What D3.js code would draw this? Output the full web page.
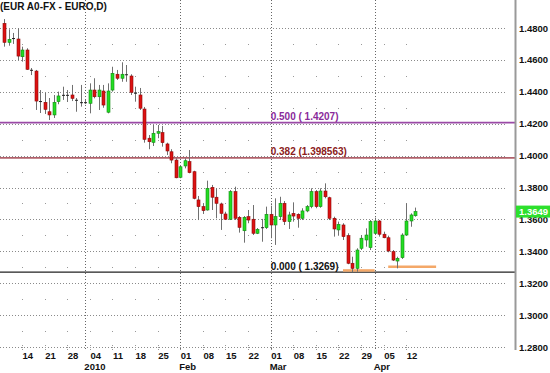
<!DOCTYPE html>
<html><head><meta charset="utf-8">
<script src="https://cdnjs.cloudflare.com/ajax/libs/d3/7.8.5/d3.min.js"></script>
<style>html,body{margin:0;padding:0;background:#fff;}svg{display:block;}</style>
</head><body>
<script>
const title = "(EUR A0-FX - EURO,D)";
const dates = ["2009-12-08","2009-12-09","2009-12-10","2009-12-11",
"2009-12-14","2009-12-15","2009-12-16","2009-12-17","2009-12-18",
"2009-12-21","2009-12-22","2009-12-23","2009-12-24","2009-12-25",
"2009-12-28","2009-12-29","2009-12-30","2009-12-31","2010-01-01",
"2010-01-04","2010-01-05","2010-01-06","2010-01-07","2010-01-08",
"2010-01-11","2010-01-12","2010-01-13","2010-01-14","2010-01-15",
"2010-01-18","2010-01-19","2010-01-20","2010-01-21","2010-01-22",
"2010-01-25","2010-01-26","2010-01-27","2010-01-28","2010-01-29",
"2010-02-01","2010-02-02","2010-02-03","2010-02-04","2010-02-05",
"2010-02-08","2010-02-09","2010-02-10","2010-02-11","2010-02-12",
"2010-02-15","2010-02-16","2010-02-17","2010-02-18","2010-02-19",
"2010-02-22","2010-02-23","2010-02-24","2010-02-25","2010-02-26",
"2010-03-01","2010-03-02","2010-03-03","2010-03-04","2010-03-05",
"2010-03-08","2010-03-09","2010-03-10","2010-03-11","2010-03-12",
"2010-03-15","2010-03-16","2010-03-17","2010-03-18","2010-03-19",
"2010-03-22","2010-03-23","2010-03-24","2010-03-25","2010-03-26",
"2010-03-29","2010-03-30","2010-03-31","2010-04-01","2010-04-02",
"2010-04-05","2010-04-06","2010-04-07","2010-04-08","2010-04-09",
"2010-04-12","2010-04-13","2010-04-14"];
const open  = [1.4829,1.4710,1.4733,1.4731,1.4620,1.4662,1.4538,1.4530,1.4342,1.4334,1.4275,1.4255,1.4338,1.4379,1.4381,1.4380,1.4350,1.4335,1.4334,1.4328,1.4411,1.4369,1.4405,1.4272,1.4411,1.4510,1.4485,1.4508,1.4499,1.4396,1.4380,1.4292,1.4109,1.4083,1.4140,1.4144,1.4073,1.4024,1.3972,1.3864,1.3935,1.3962,1.3899,1.3722,1.3680,1.3659,1.3801,1.3739,1.3697,1.3634,1.3601,1.3774,1.3613,1.3529,1.3617,1.3601,1.3513,1.3551,1.3548,1.3632,1.3565,1.3617,1.3701,1.3586,1.3638,1.3632,1.3607,1.3653,1.3680,1.3774,1.3680,1.3778,1.3736,1.3607,1.3534,1.3565,1.3498,1.3325,1.3293,1.3419,1.3471,1.3423,1.3513,1.3590,1.3507,1.3485,1.3398,1.3339,1.3360,1.3502,1.3590,1.3623];
const high  = [1.4856,1.4792,1.4769,1.4798,1.4683,1.4673,1.4549,1.4537,1.4411,1.4393,1.4361,1.4380,1.4401,1.4432,1.4411,1.4443,1.4361,1.4443,1.4349,1.4453,1.4485,1.4443,1.4443,1.4453,1.4557,1.4537,1.4585,1.4568,1.4510,1.4432,1.4424,1.4305,1.4129,1.4192,1.4192,1.4186,1.4081,1.4040,1.3983,1.3941,1.3983,1.4035,1.3905,1.3747,1.3701,1.3843,1.3816,1.3795,1.3705,1.3648,1.3784,1.3805,1.3621,1.3621,1.3659,1.3690,1.3546,1.3603,1.3680,1.3686,1.3732,1.3742,1.3715,1.3648,1.3707,1.3638,1.3670,1.3690,1.3795,1.3784,1.3795,1.3826,1.3742,1.3617,1.3586,1.3576,1.3513,1.3366,1.3419,1.3502,1.3544,1.3596,1.3611,1.3596,1.3523,1.3498,1.3408,1.3366,1.3513,1.3701,1.3638,1.3674];
const low   = [1.4683,1.4689,1.4700,1.4599,1.4589,1.4537,1.4505,1.4286,1.4267,1.4261,1.4223,1.4236,1.4322,1.4349,1.4336,1.4342,1.4275,1.4307,1.4323,1.4265,1.4359,1.4286,1.4300,1.4265,1.4401,1.4474,1.4463,1.4463,1.4380,1.4338,1.4286,1.4081,1.4040,1.4060,1.4109,1.4056,1.4004,1.3952,1.3858,1.3858,1.3920,1.3889,1.3726,1.3596,1.3634,1.3655,1.3659,1.3607,1.3534,1.3596,1.3596,1.3596,1.3517,1.3454,1.3576,1.3502,1.3508,1.3460,1.3540,1.3482,1.3440,1.3596,1.3565,1.3540,1.3586,1.3548,1.3596,1.3645,1.3670,1.3670,1.3673,1.3732,1.3596,1.3492,1.3502,1.3471,1.3319,1.3269,1.3272,1.3408,1.3429,1.3408,1.3507,1.3492,1.3482,1.3394,1.3339,1.3293,1.3352,1.3498,1.3554,1.3617];
const close = [1.4710,1.4729,1.4737,1.4624,1.4662,1.4541,1.4536,1.4342,1.4340,1.4290,1.4255,1.4334,1.4374,1.4381,1.4379,1.4359,1.4348,1.4333,1.4335,1.4411,1.4369,1.4411,1.4317,1.4405,1.4516,1.4485,1.4510,1.4510,1.4397,1.4388,1.4297,1.4102,1.4087,1.4140,1.4150,1.4081,1.4029,1.3972,1.3861,1.3930,1.3968,1.3893,1.3732,1.3680,1.3655,1.3795,1.3739,1.3701,1.3638,1.3601,1.3774,1.3607,1.3550,1.3613,1.3596,1.3513,1.3538,1.3549,1.3632,1.3565,1.3617,1.3701,1.3586,1.3628,1.3621,1.3607,1.3653,1.3680,1.3774,1.3680,1.3778,1.3742,1.3607,1.3540,1.3569,1.3492,1.3325,1.3293,1.3408,1.3482,1.3502,1.3586,1.3590,1.3507,1.3485,1.3402,1.3345,1.3356,1.3502,1.3590,1.3628,1.3649];

const yTicks = [1.28,1.30,1.32,1.34,1.36,1.38,1.40,1.42,1.44,1.46,1.48];
const yMinorLevels = [1.29,1.31,1.33,1.35,1.37,1.39,1.41,1.43,1.45,1.47];
const weekTickDates = ["2009-12-14","2009-12-21","2009-12-28","2010-01-04","2010-01-11","2010-01-18","2010-01-25","2010-02-01","2010-02-08","2010-02-15","2010-02-22","2010-03-01","2010-03-08","2010-03-15","2010-03-22","2010-03-29","2010-04-05","2010-04-12"];
const weekTickLabels = ["14","21","28","04","11","18","25","01","08","15","22","01","08","15","22","29","05","12"];
const monthDates = ["2010-01-01","2010-02-01","2010-03-01","2010-04-01"];
const monthLabels = ["2010","Feb","Mar","Apr"];
const fibNames = ["0.500 ( 1.4207)","0.382 (1.398563)","0.000 ( 1.3269)"];
const fibValues = [1.4207,1.398563,1.3269];
const fibColors = ["#9a4aa6","#b0606a","#222222"];
const supportStart = [75,85];
const supportEnd = [82,95.6];
const supportLevel = [1.3280,1.3303];
const lastPrice = 1.3649;

const W = 550, H = 373;
const svg = d3.select("body").append("svg").attr("width",W).attr("height",H)
  .style("font-family","'Liberation Sans',Arial,sans-serif");
svg.append("rect").attr("width",W).attr("height",H).attr("fill","#fff");

const x = d3.scaleLinear().domain([0, dates.length-1]).range([4, 4 + 4.52*(dates.length-1)]);
const y = d3.scaleLinear().domain([1.28,1.48]).range([347,28]);
const axisX = 515;
const idx = d => dates.indexOf(d);

// horizontal dotted gridlines
svg.append("g").selectAll("line").data(yTicks).join("line")
  .attr("x1",0).attr("x2",507).attr("y1",d=>Math.round(y(d))+0.5).attr("y2",d=>Math.round(y(d))+0.5)
  .attr("stroke","#8a8a8a").attr("stroke-width",1).attr("stroke-dasharray","1,2");

// minor dots
const dots = [];
weekTickDates.forEach(d => yMinorLevels.forEach(v => dots.push([x(idx(d)), y(v)])));
svg.append("g").selectAll("rect").data(dots).join("rect")
  .attr("x",d=>Math.round(d[0])).attr("y",d=>Math.round(d[1])).attr("width",1).attr("height",1).attr("fill","#999");

// bottom tick marks
svg.append("g").selectAll("line").data(weekTickDates).join("line")
  .attr("x1",d=>Math.round(x(idx(d)))+0.5).attr("x2",d=>Math.round(x(idx(d)))+0.5)
  .attr("y1",345).attr("y2",350).attr("stroke","#999").attr("stroke-dasharray","1,1");

// month separator lines
svg.append("g").selectAll("line").data(monthDates).join("line")
  .attr("x1",d=>Math.round(x(idx(d)))+0.5).attr("x2",d=>Math.round(x(idx(d)))+0.5)
  .attr("y1",0).attr("y2",350).attr("stroke","#666").attr("stroke-dasharray","1,2");

// fib lines
svg.append("g").selectAll("line").data(fibValues).join("line")
  .attr("x1",0).attr("x2",axisX).attr("y1",d=>y(d)).attr("y2",d=>y(d))
  .attr("stroke",(d,i)=>fibColors[i]).attr("stroke-width",(d,i)=>i<2?1.6:1.2);
svg.append("g").selectAll("text").data(fibValues).join("text")
  .attr("x", x(idx("2010-03-01"))).attr("y",d=>y(d)-2.5)
  .attr("fill",(d,i)=>i==0?"#8a2a9a":(i==1?"#8a2020":"#111"))
  .attr("font-size","10px").attr("font-weight","bold")
  .text((d,i)=>fibNames[i]);

// support lines
svg.append("g").selectAll("line").data(supportLevel).join("line")
  .attr("x1",(d,i)=>x(supportStart[i])).attr("x2",(d,i)=>x(supportEnd[i]))
  .attr("y1",d=>y(d)).attr("y2",d=>y(d))
  .attr("stroke","#f4a868").attr("stroke-width",2.5);

// candles
const candles = svg.append("g").selectAll("g").data(dates).join("g");
candles.append("line")
  .attr("x1",(d,i)=>Math.round(x(i))+0.5).attr("x2",(d,i)=>Math.round(x(i))+0.5)
  .attr("y1",(d,i)=>y(high[i])).attr("y2",(d,i)=>y(low[i]))
  .attr("stroke","#707070").attr("stroke-width",1);
candles.append("rect")
  .attr("x",(d,i)=>Math.round(x(i))-1)
  .attr("y",(d,i)=>y(Math.max(open[i],close[i])))
  .attr("width",3)
  .attr("height",(d,i)=>Math.max(1, Math.abs(y(open[i])-y(close[i]))))
  .attr("fill",(d,i)=>{
    const h = Math.abs(y(open[i])-y(close[i]));
    if (h < 1.5) return "#222";
    return close[i] >= open[i] ? "#22dd22" : "#dd1111";
  })
  .attr("stroke",(d,i)=>{
    const h = Math.abs(y(open[i])-y(close[i]));
    if (h < 1.5) return "none";
    return close[i] >= open[i] ? "#118a11" : "#8a0a0a";
  })
  .attr("stroke-width",0.6);

// right axis
svg.append("line").attr("x1",axisX+0.5).attr("x2",axisX+0.5).attr("y1",0).attr("y2",350)
  .attr("stroke","#999").attr("stroke-width",2);
const yAxis = d3.axisRight(y).tickValues(yTicks).tickSize(0).tickPadding(0).tickFormat(d3.format(".4f"));
const ya = svg.append("g").attr("transform",`translate(${axisX+4},0)`).call(yAxis);
ya.select(".domain").remove();
ya.selectAll("text").attr("font-size","9.5px").attr("font-weight","bold").attr("fill","#111")
  .attr("font-family","'Liberation Sans',Arial,sans-serif");

// last price label
svg.append("rect").attr("x",axisX+1).attr("y",y(lastPrice)-6).attr("width",W-axisX-1).attr("height",12).attr("fill","#2de02d");
svg.append("text").attr("x",axisX+4).attr("y",y(lastPrice)+3.5).attr("fill","#fff")
  .attr("font-size","9.5px").attr("font-weight","bold").text(d3.format(".4f")(lastPrice));

// bottom axis
const xAxis = d3.axisBottom(x).tickValues(weekTickDates.map(idx)).tickSize(0).tickPadding(0)
  .tickFormat((d,i)=>weekTickLabels[i]);
const xa = svg.append("g").attr("transform","translate(0,352)").call(xAxis);
xa.select(".domain").remove();
xa.selectAll("text").attr("text-anchor","start").attr("dy","0.71em")
  .attr("font-size","9.5px").attr("font-weight","bold").attr("fill","#111")
  .attr("font-family","'Liberation Sans',Arial,sans-serif");
svg.append("g").selectAll("text").data(monthDates).join("text")
  .attr("x",d=>x(idx(d))-1).attr("y",370)
  .attr("font-size","9.5px").attr("font-weight","bold").attr("fill","#111")
  .text((d,i)=>monthLabels[i]);

// title
svg.append("text").attr("x",0).attr("y",10).attr("font-size","10px").attr("font-weight","bold")
  .attr("fill","#111").text(title);
</script>
</body></html>
